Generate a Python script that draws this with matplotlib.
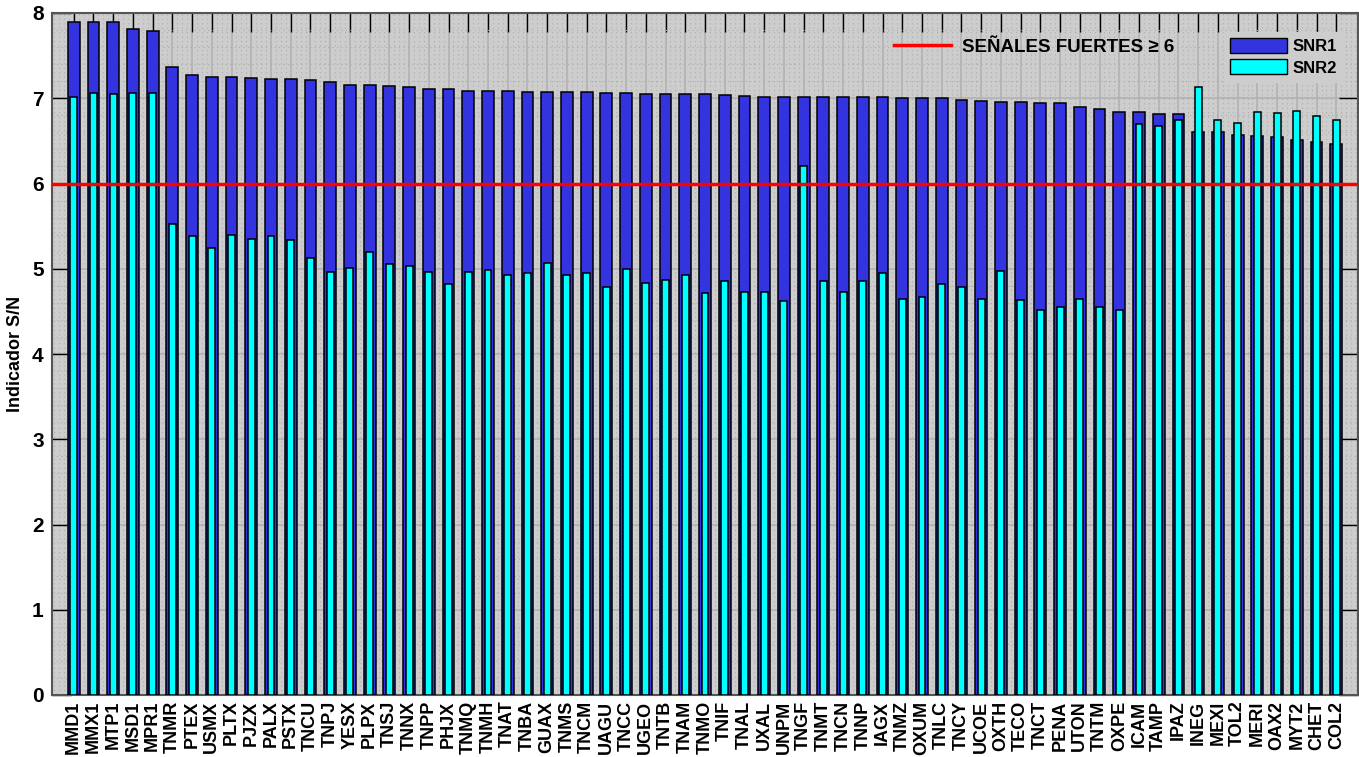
import numpy as np
import matplotlib
matplotlib.use('Agg')
import matplotlib.pyplot as plt
from matplotlib.patches import Patch
from matplotlib.lines import Line2D
from matplotlib.ticker import MultipleLocator

plt.rcParams['font.family'] = ['Liberation Sans', 'DejaVu Sans']

stations = ['MMD1', 'MMX1', 'MTP1', 'MSD1', 'MPR1', 'TNMR', 'PTEX', 'USMX', 'PLTX', 'PJZX',
            'PALX', 'PSTX', 'TNCU', 'TNPJ', 'YESX', 'PLPX', 'TNSJ', 'TNNX', 'TNPP', 'PHJX',
            'TNMQ', 'TNMH', 'TNAT', 'TNBA', 'GUAX', 'TNMS', 'TNCM', 'UAGU', 'TNCC', 'UGEO',
            'TNTB', 'TNAM', 'TNMO', 'TNIF', 'TNAL', 'UXAL', 'UNPM', 'TNGF', 'TNMT', 'TNCN',
            'TNNP', 'IAGX', 'TNMZ', 'OXUM', 'TNLC', 'TNCY', 'UCOE', 'OXTH', 'TECO', 'TNCT',
            'PENA', 'UTON', 'TNTM', 'OXPE', 'ICAM', 'TAMP', 'IPAZ', 'INEG', 'MEXI', 'TOL2',
            'MERI', 'OAX2', 'MYT2', 'CHET', 'COL2']

snr1 = [7.90, 7.89, 7.89, 7.81, 7.79, 7.37, 7.27, 7.25, 7.25, 7.24,
        7.23, 7.23, 7.21, 7.19, 7.16, 7.16, 7.14, 7.13, 7.11, 7.11,
        7.09, 7.09, 7.08, 7.077, 7.073, 7.073, 7.069, 7.061, 7.058, 7.054,
        7.05, 7.05, 7.046, 7.034, 7.026, 7.019, 7.019, 7.019, 7.019, 7.019,
        7.011, 7.011, 7.007, 7.003, 7.00, 6.983, 6.972, 6.956, 6.952, 6.941,
        6.941, 6.901, 6.878, 6.843, 6.835, 6.811, 6.811, 6.60, 6.60, 6.565,
        6.561, 6.545, 6.51, 6.483, 6.463]

snr2 = [7.02, 7.06, 7.05, 7.06, 7.06, 5.52, 5.38, 5.24, 5.40, 5.35,
        5.38, 5.34, 5.13, 4.96, 5.01, 5.20, 5.06, 5.03, 4.96, 4.82,
        4.96, 4.99, 4.93, 4.95, 5.07, 4.93, 4.95, 4.79, 5.00, 4.83,
        4.87, 4.93, 4.71, 4.86, 4.73, 4.73, 4.62, 6.20, 4.86, 4.73,
        4.86, 4.95, 4.65, 4.67, 4.82, 4.79, 4.64, 4.97, 4.63, 4.52,
        4.55, 4.65, 4.55, 4.52, 6.70, 6.67, 6.74, 7.13, 6.74, 6.71,
        6.84, 6.83, 6.85, 6.79, 6.75]

threshold = 6

x = np.arange(1, len(stations) + 1)

fig = plt.figure(figsize=(13.59, 7.57), dpi=100)
ax = fig.add_axes([52 / 1359, 62 / 757, 1306 / 1359, 682 / 757])
ax.set_facecolor('#cdcdcd')

ax.bar(x, snr1, width=0.6, color='#3333e0', edgecolor='black', linewidth=1.1, zorder=3)
ax.bar(x, snr2, width=0.35, color='#00ffff', edgecolor='black', linewidth=1.1, zorder=4)
ax.axhline(threshold, color='red', linewidth=2.5, zorder=5)

ax.set_xlim(-0.1, 66.1)
ax.set_ylim(0, 8)
ax.set_xticks(x)
ax.set_xticklabels(stations, rotation=90, fontsize=13, fontweight='bold')
ax.yaxis.set_major_locator(MultipleLocator(1))
ax.yaxis.set_minor_locator(MultipleLocator(0.2))
ax.xaxis.set_minor_locator(MultipleLocator(0.25))
for lab in ax.get_yticklabels():
    lab.set_fontsize(15)
    lab.set_fontweight('bold')
ax.tick_params(which='major', direction='in', length=14, width=1, top=True, right=True)
ax.tick_params(axis='x', pad=4)
ax.tick_params(axis='y', pad=6)
ax.tick_params(which='minor', length=0)
ax.grid(which='major', color='#b2b2b2', linewidth=1.2, linestyle='-', zorder=0)
ax.grid(which='minor', color='#adadad', linewidth=0.8, linestyle=(0, (1, 3)), zorder=0)
ax.set_axisbelow(True)
ax.set_ylabel('Indicador S/N', fontsize=13, fontweight='bold', labelpad=6)
for sp in ax.spines.values():
    sp.set_color('#555555')
    sp.set_linewidth(1.5)

bar_handles = [Patch(facecolor='#3333e0', edgecolor='black', label='SNR1'),
               Patch(facecolor='#00ffff', edgecolor='black', label='SNR2')]
leg1 = ax.legend(handles=bar_handles, loc='upper right', bbox_to_anchor=(0.995, 0.985),
                 prop={'size': 12, 'weight': 'bold'}, facecolor='#cdcdcd', edgecolor='#cdcdcd',
                 framealpha=1, fancybox=False, handlelength=3.4, handleheight=1.0,
                 handletextpad=0.3, labelspacing=0.3, borderpad=0.4)
ax.add_artist(leg1)

line_handle = [Line2D([0], [0], color='red', linewidth=2.5,
                      label='SEÑALES FUERTES \u2265 6')]
leg2 = ax.legend(handles=line_handle, loc='center left', bbox_to_anchor=(0.632, 0.95),
                 prop={'size': 13.5, 'weight': 'bold'}, frameon=False,
                 handlelength=3.0, handletextpad=0.6)

fig.savefig('out.png', dpi=100)
